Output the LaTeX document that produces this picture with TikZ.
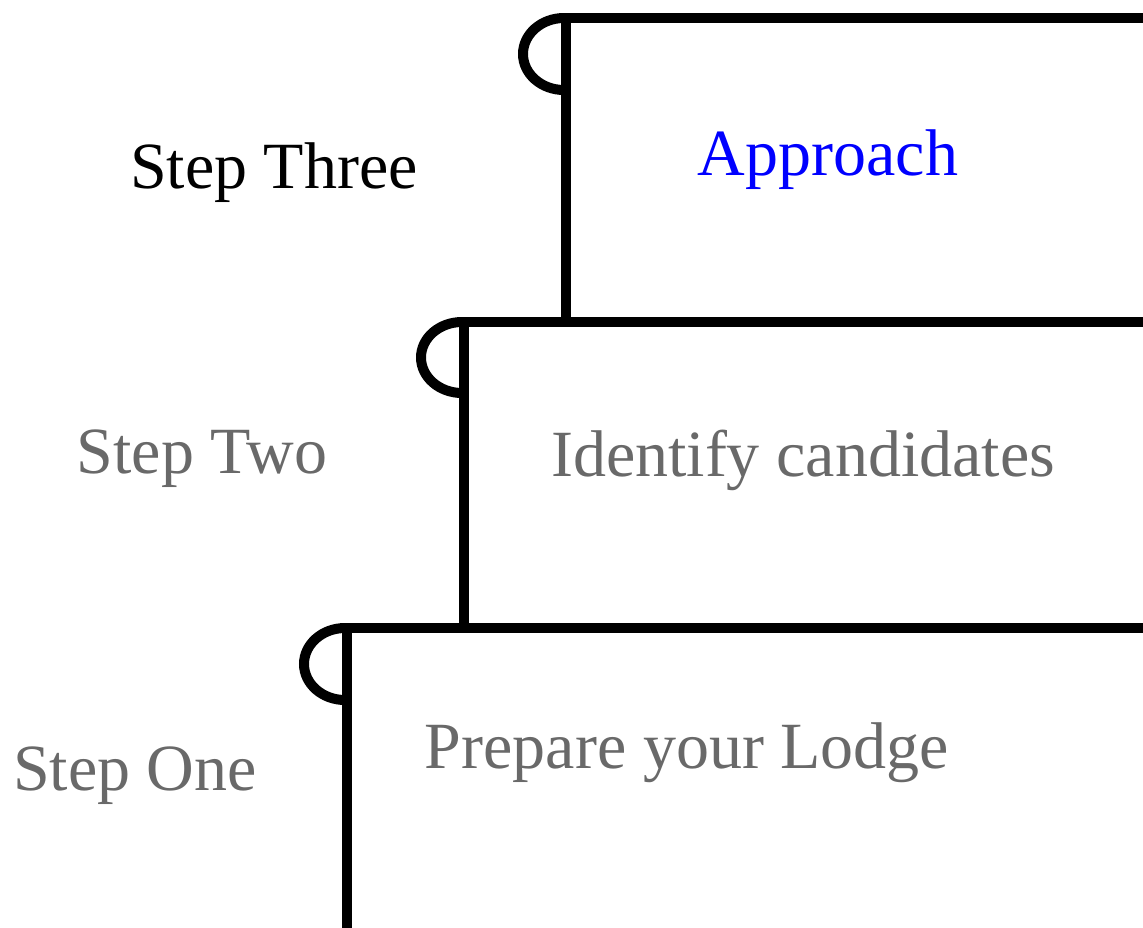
\documentclass[tikz,border=0pt]{standalone}
\usepackage{fontspec}
\setmainfont{Liberation Serif}
\definecolor{stepgray}{RGB}{105,105,105}
\definecolor{stepblue}{RGB}{0,0,255}
\begin{document}
\begin{tikzpicture}[x=0.5pt,y=0.5pt,
  frame/.style={line width=5pt, line join=miter, line cap=butt},
  txt/.style={inner sep=0pt, anchor=base, font=\fontsize{33}{40}\selectfont}]
\useasboundingbox (0,0) rectangle (1143,-927);
% step three box
\draw[frame] (1160,-18) -- (566,-18) -- (566,-322);
\draw[frame] (564,-18) arc[start angle=90,end angle=270,x radius=41,y radius=36];
% step two box
\draw[frame] (1160,-322) -- (464,-322) -- (464,-628);
\draw[frame] (462,-322) arc[start angle=90,end angle=270,x radius=41,y radius=35.5];
% step one box
\draw[frame] (1160,-628) -- (347,-628) -- (347,-945);
\draw[frame] (345,-628) arc[start angle=90,end angle=270,x radius=41,y radius=36];
% labels
\node[txt, text=black] (s3) at (274,-188) {Step Three};
\node[txt, text=stepblue] (t3) at (828,-175) {Approach};
\node[txt, text=stepgray] (s2) at (202,-473) {Step Two};
\node[txt, text=stepgray] (t2) at (803,-476) {Identify candidates};
\node[txt, text=stepgray] (s1) at (135,-790) {Step One};
\node[txt, text=stepgray] (t1) at (687,-768) {Prepare your Lodge};
\end{tikzpicture}
\end{document}
